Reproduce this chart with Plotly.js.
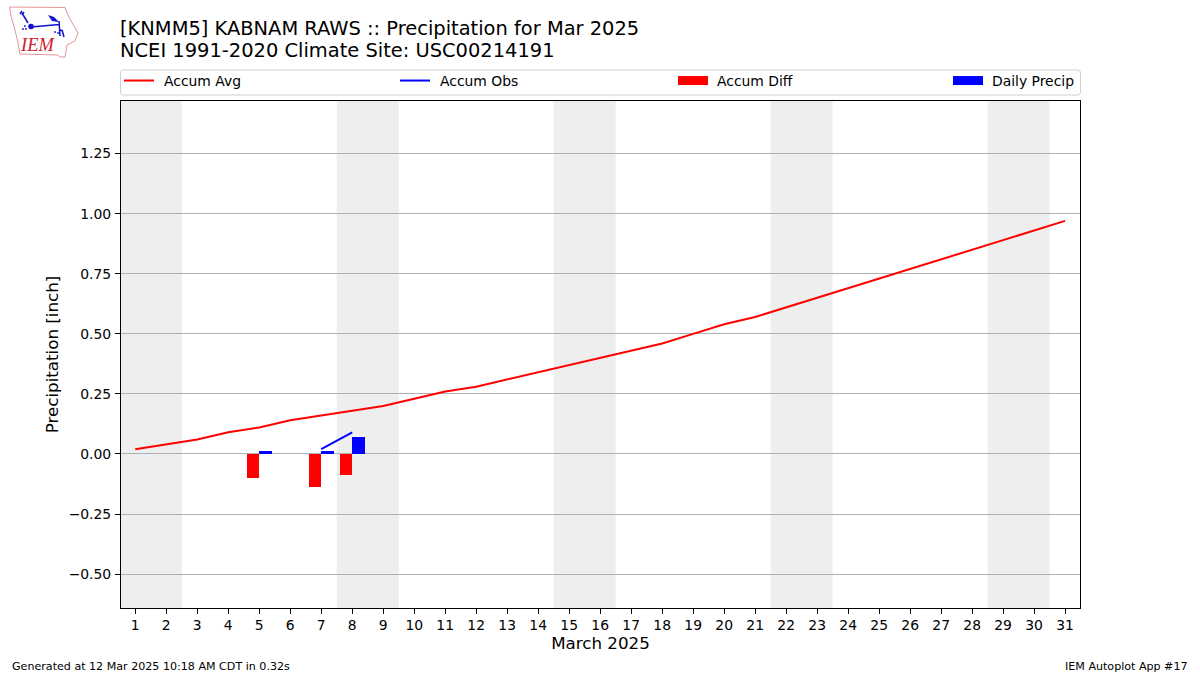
<!DOCTYPE html>
<html><head><meta charset="utf-8">
<script src="https://cdn.plot.ly/plotly-3.0.1.min.js"></script>
<style>html,body{margin:0;padding:0;background:#fff}.legendtext,.legend2text{transform:translateX(5px)}.legend3text,.legend4text{transform:translateX(4px)}</style></head>
<body><div id="chart" style="width:1200px;height:675px"></div>
<script>
const days = Array.from({length:31},(_,i)=>i+1);
const accumAvg = [0.02,0.04,0.06,0.09,0.11,0.14,0.16,0.18,0.20,0.23,0.26,0.28,0.31,0.34,0.37,0.40,0.43,0.46,0.50,0.54,0.57,0.61,0.65,0.69,0.73,0.77,0.81,0.85,0.89,0.93,0.97];
const obsDays = [7,8];
const accumObs = [0.02,0.09];
const diffDays = [5,7,8];
const accumDiff = [-0.10,-0.137,-0.087];
const precipDays = [5,7,8];
const dailyPrecip = [0.012,0.012,0.07];
const weekendStarts = [1,8,15,22,29];
const yTicks = [-0.5,-0.25,0,0.25,0.5,0.75,1,1.25];

const F = '"DejaVu Sans", sans-serif';
const W=1200,H=675,L=121,R=1080,T=101,B=608;
const px=x=>(x-L)/(R-L), py=y=>(B-y)/(B-T);

const logo = `<svg xmlns="http://www.w3.org/2000/svg" width="130" height="70" viewBox="0 0 130 70">
<path d="M9.5 7 L65 7.5 L67 13 L70 19 L78 33 L75 41 L67 45 L65 57 L60 57 L58 55 L20 54 L18 43 L15 30 L11 16 Z" fill="none" stroke="#e08a8a" stroke-width="0.9"/>
<g stroke="#1010d0" fill="none" stroke-width="1.5">
<path d="M31 27 L59 24.5 M22 13 L28 23 M22 11 L20 14 M24 12 L22 15 M59 21 L60 36 M60 30 L63 31 M62 30 L64 37"/>
</g>
<circle cx="31" cy="26.5" r="2.8" fill="#1010d0"/>
<path d="M48 15 L54 17 L59 22 L52 21 Z" fill="#1010d0"/>
<g fill="#1010d0"><circle cx="23" cy="29" r=".9"/><circle cx="25" cy="26" r=".9"/><circle cx="26" cy="29" r=".9"/><circle cx="55" cy="32" r=".9"/><circle cx="58" cy="33" r=".9"/></g>
</svg>`;

const traces = [
 {type:'scatter',mode:'lines',x:days,y:accumAvg,name:'Accum Avg',line:{color:'#ff0000',width:2},legend:'legend'},
 {type:'scatter',mode:'lines',x:obsDays,y:accumObs,name:'Accum Obs',line:{color:'#0000ff',width:2},legend:'legend2'},
 {type:'bar',x:diffDays,y:accumDiff,name:'Accum Diff',width:0.4,offset:-0.4,marker:{color:'#ff0000',line:{width:0}},showlegend:false},
 {type:'bar',x:precipDays,y:dailyPrecip,name:'Daily Precip',width:0.4,offset:0,marker:{color:'#0000ff',line:{width:0}},showlegend:false},
 {type:'scatter',mode:'lines',x:[null],y:[null],name:'Accum Diff',line:{color:'#ff0000',width:9},legend:'legend3',hoverinfo:'skip'},
 {type:'scatter',mode:'lines',x:[null],y:[null],name:'Daily Precip',line:{color:'#0000ff',width:9},legend:'legend4',hoverinfo:'skip'}
];
const leg = x=>({x:px(x),xanchor:'left',y:py(81),yanchor:'middle',orientation:'h',bgcolor:'rgba(0,0,0,0)',borderwidth:0,itemwidth:30,font:{family:F,size:13.9,color:'#000'},itemclick:false,itemdoubleclick:false});

const shapes = weekendStarts.map(d=>({type:'rect',xref:'x',yref:'paper',x0:d-0.5,x1:d+1.5,y0:0,y1:1,fillcolor:'#eeeeee',line:{width:0},layer:'below'}));
shapes.push({type:'path',xref:'paper',yref:'paper',layer:'above',fillcolor:'rgba(255,255,255,0.8)',line:{color:'#d0d0d0',width:1},
 path:`M ${px(123)} ${py(70)} L ${px(1078)} ${py(70)} Q ${px(1080.5)} ${py(70)} ${px(1080.5)} ${py(73)} L ${px(1080.5)} ${py(92)} Q ${px(1080.5)} ${py(95)} ${px(1078)} ${py(95)} L ${px(123)} ${py(95)} Q ${px(120.5)} ${py(95)} ${px(120.5)} ${py(92)} L ${px(120.5)} ${py(73)} Q ${px(120.5)} ${py(70)} ${px(123)} ${py(70)} Z`});

const note=(text,x,y,anchor,size,extra)=>Object.assign({text,xref:'paper',yref:'paper',x:px(x),y:py(y),xanchor:anchor,yanchor:'middle',showarrow:false,font:{family:F,size,color:'#000'}},extra||{});

const layout = {
 width:W,height:H,paper_bgcolor:'#fff',plot_bgcolor:'#fff',
 margin:{l:L,r:W-R,t:T,b:H-B,pad:0},
 barmode:'overlay',bargap:0,
 xaxis:{range:[0.54,31.48],tickmode:'array',tickvals:days,ticktext:days.map(String),ticks:'outside',ticklen:5,tickwidth:1,tickcolor:'#000',ticklabelstandoff:-1,
  showgrid:false,zeroline:false,showline:true,mirror:true,linecolor:'#000',linewidth:1,tickfont:{family:F,size:13.9,color:'#000'},
  title:{text:'March 2025',font:{family:F,size:16.7,color:'#000'},standoff:5}},
 yaxis:{range:[-0.641,1.469],tickmode:'array',tickvals:yTicks,tickformat:'.2f',ticks:'outside',ticklen:5,tickwidth:1,tickcolor:'#000',ticklabelstandoff:1,
  showgrid:true,gridcolor:'#b0b0b0',gridwidth:1,zeroline:false,showline:true,mirror:true,linecolor:'#000',linewidth:1,tickfont:{family:F,size:13.9,color:'#000'},
  title:{text:'Precipitation [inch]',font:{family:F,size:16.7,color:'#000'},standoff:5}},
 legend:leg(119),legend2:leg(395),legend3:leg(673),legend4:leg(948),
 shapes,
 images:[{source:'data:image/svg+xml;charset=utf-8,'+encodeURIComponent(logo),xref:'paper',yref:'paper',x:px(0),y:py(0),sizex:130/(R-L),sizey:70/(B-T),xanchor:'left',yanchor:'top',sizing:'stretch',layer:'above'}],
 annotations:[
  note('[KNMM5] KABNAM RAWS :: Precipitation for Mar 2025',118,29,'left',19.44),
  note('NCEI 1991-2020 Climate Site: USC00214191',118,51,'left',19.44),
  note('Generated at 12 Mar 2025 10:18 AM CDT in 0.32s',10,666,'left',11.1),
  note('IEM Autoplot App #17',1190,666,'right',11.1),
  note('<i>IEM</i>',37.5,45,'center',18.5,{font:{family:'"Liberation Serif", serif',size:18.5,color:'#d0202a'}})
 ],
 showlegend:true
};
Plotly.newPlot('chart',traces,layout,{displayModeBar:false});
</script></body></html>
